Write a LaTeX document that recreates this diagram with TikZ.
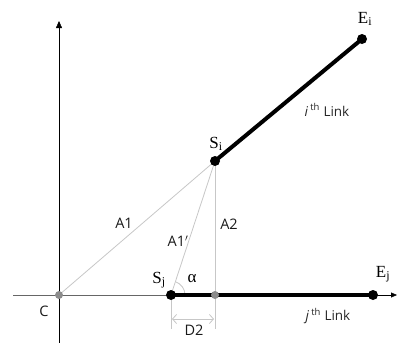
\documentclass[tikz,border=0pt]{standalone}
\usepackage{fontspec}
\setmainfont{Liberation Serif}
\newfontfamily\sanslabel{Open Sans}
\usetikzlibrary{arrows.meta}

\tikzset{
  helpline/.style={draw=black!22, line width=0.8pt},
  linkbar/.style={line width=4pt},
  jointdot/.style={circle, fill=black, inner sep=0pt, minimum size=10pt},
  footdot/.style={circle, fill=black!45, inner sep=0pt, minimum size=8pt},
  ptlabel/.style={font=\fontsize{17}{19}\selectfont},
  lenlabel/.style={font=\sanslabel\fontsize{14.5}{16}\selectfont, text=black!90},
  linklabel/.style={font=\sanslabel\fontsize{13.5}{15}\selectfont, text=black!85}
}

\begin{document}
\begin{tikzpicture}[x=1pt,y=-1pt]
\useasboundingbox (0,0) rectangle (397,343);

% geometry (pixel grid, y downwards)
\coordinate (C) at (59,295);
\coordinate (Sj) at (171,295);
\coordinate (P) at (215,295);
\coordinate (Si) at (215,161);
\coordinate (Ei) at (362,39);
\coordinate (Ej) at (373,295);
\coordinate (AxL) at (13,295);
\coordinate (AxR) at (397,295);
\coordinate (AyB) at (59,343);
\coordinate (AyT) at (59,21);
\coordinate (SjFoot) at (171,329);
\coordinate (PFoot) at (215,329);
\coordinate (DimL) at (172,319);
\coordinate (DimR) at (214,319);

% axes
\draw[-{Triangle[length=7pt,width=6pt]}] (AyB) -- (AyT);
\draw[black!60, line width=0.9pt] (AxL) -- (Sj);
\draw[-{Triangle[length=6pt,width=5pt]}] (Ej) -- (AxR);

% help lines
\draw[helpline] (C) -- (Si);
\draw[helpline] (Sj) -- (Si);
\draw[helpline] (Si) -- (PFoot);
\draw[helpline] (Sj) -- (SjFoot);
\draw[helpline] ([xshift=14pt]Sj) arc[start angle=0, end angle=72, radius=14pt];
\draw[helpline, {Straight Barb[length=4pt,width=9pt]}-{Straight Barb[length=4pt,width=9pt]}] (DimL) -- (DimR);

% links
\draw[linkbar] (Si) -- (Ei);
\draw[linkbar] (Sj) -- (Ej);

% joints
\node[footdot] (dotC) at (C) {};
\node[footdot] (dotP) at (P) {};
\node[jointdot] (dotSi) at (Si) {};
\node[jointdot] (dotEi) at (Ei) {};
\node[jointdot] (dotSj) at (Sj) {};
\node[jointdot] (dotEj) at (Ej) {};

% labels
\node[ptlabel] (labEi) at (365,19) {E\textsubscript{i}};
\node[ptlabel] (labSi) at (216,144) {S\textsubscript{i}};
\node[ptlabel] (labSj) at (159,280) {S\textsubscript{j}};
\node[ptlabel] (labEj) at (383,274) {E\textsubscript{j}};
\node[ptlabel] (alpha) at (192,279) {α};
\node[lenlabel] (labC) at (44,311) {C};
\node[lenlabel] (labA1) at (124,223) {A1};
\node[lenlabel] (labA1p) at (178,241) {A1$'$};
\node[lenlabel] (labA2) at (229,224) {A2};
\node[lenlabel] (labD2) at (194,330) {D2};
\node[linklabel] (linki) at (327,110) {{\itshape i}\,\textsuperscript{th} Link};
\node[linklabel] (linkj) at (328,316) {{\itshape j}\,\textsuperscript{th} Link};

\end{tikzpicture}
\end{document}
